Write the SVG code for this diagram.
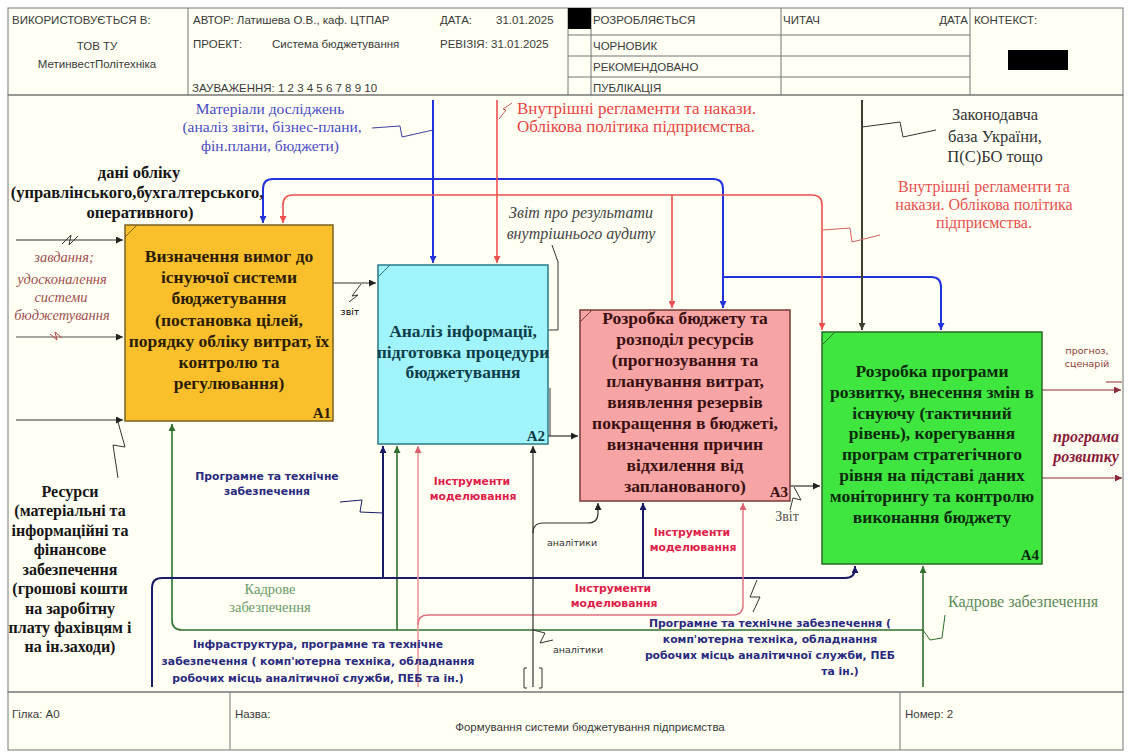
<svg xmlns="http://www.w3.org/2000/svg" width="1131" height="754" viewBox="0 0 1131 754">
<defs>
<marker id="mK" viewBox="0 0 10 10" refX="10" refY="5" markerWidth="8" markerHeight="7" markerUnits="userSpaceOnUse" orient="auto"><path d="M0,0 L10,5 L0,10 z" fill="#222"/></marker>
<marker id="mB" viewBox="0 0 10 10" refX="10" refY="5" markerWidth="8" markerHeight="7" markerUnits="userSpaceOnUse" orient="auto"><path d="M0,0 L10,5 L0,10 z" fill="#2233DD"/></marker>
<marker id="mR" viewBox="0 0 10 10" refX="10" refY="5" markerWidth="8" markerHeight="7" markerUnits="userSpaceOnUse" orient="auto"><path d="M0,0 L10,5 L0,10 z" fill="#EE4F4F"/></marker>
<marker id="mP" viewBox="0 0 10 10" refX="10" refY="5" markerWidth="8" markerHeight="7" markerUnits="userSpaceOnUse" orient="auto"><path d="M0,0 L10,5 L0,10 z" fill="#E06070"/></marker>
<marker id="mD" viewBox="0 0 10 10" refX="10" refY="5" markerWidth="8" markerHeight="7" markerUnits="userSpaceOnUse" orient="auto"><path d="M0,0 L10,5 L0,10 z" fill="#3E3E30"/></marker>
<marker id="mG" viewBox="0 0 10 10" refX="10" refY="5" markerWidth="8" markerHeight="7" markerUnits="userSpaceOnUse" orient="auto"><path d="M0,0 L10,5 L0,10 z" fill="#2F6F2F"/></marker>
<marker id="mN" viewBox="0 0 10 10" refX="10" refY="5" markerWidth="8" markerHeight="7" markerUnits="userSpaceOnUse" orient="auto"><path d="M0,0 L10,5 L0,10 z" fill="#1A1A66"/></marker>
<marker id="mO" viewBox="0 0 10 10" refX="10" refY="5" markerWidth="8" markerHeight="7" markerUnits="userSpaceOnUse" orient="auto"><path d="M0,0 L10,5 L0,10 z" fill="#8B2A3A"/></marker>
</defs>
<style>
.frame{fill:none;stroke:#777;stroke-width:1}
.hdr{font-family:"Liberation Sans",Arial,sans-serif;font-size:11.5px;fill:#3a3a3a}
.box{font-family:"Liberation Serif","Times New Roman",serif;font-weight:bold;font-size:17.5px;text-anchor:middle}
.num{font-family:"Liberation Serif","Times New Roman",serif;font-weight:bold;font-size:15px;text-anchor:end}
.ser{font-family:"Liberation Serif","Times New Roman",serif;text-anchor:middle}
.sb{font-family:"DejaVu Sans",Verdana,sans-serif;font-weight:bold;font-size:10.8px;text-anchor:middle}
.ss{font-family:"DejaVu Sans",Verdana,sans-serif;font-size:9.5px;text-anchor:middle}
.ln{fill:none;stroke-linejoin:round}
.sq{fill:none;stroke-width:1}
</style>
<rect x="0" y="0" width="1131" height="754" fill="#FFFFFF"/>
<rect x="8" y="8" width="1115" height="742" fill="#FFFFF3"/>

<g id="header">
<rect class="frame" x="8" y="8" width="1115" height="87"/>
<line class="frame" x1="188" y1="8" x2="188" y2="95"/>
<line class="frame" x1="568" y1="8" x2="568" y2="95"/>
<line class="frame" x1="591" y1="8" x2="591" y2="95"/>
<line class="frame" x1="781" y1="8" x2="781" y2="95"/>
<line class="frame" x1="970" y1="8" x2="970" y2="95"/>
<line class="frame" x1="568" y1="35" x2="970" y2="35"/>
<line class="frame" x1="568" y1="56" x2="970" y2="56"/>
<line class="frame" x1="568" y1="77" x2="970" y2="77"/>
<rect x="568" y="8" width="23" height="21" fill="#000"/>
<rect x="1008" y="50" width="60" height="20" fill="#000"/>
<text class="hdr" x="12" y="24">ВИКОРИСТОВУЄТЬСЯ В:</text>
<text class="hdr" x="97" y="50" text-anchor="middle">ТОВ ТУ</text>
<text class="hdr" x="97" y="68" text-anchor="middle">МетинвестПолітехніка</text>
<text class="hdr" x="193" y="24">АВТОР: Латишева О.В., каф. ЦТПАР</text>
<text class="hdr" x="193" y="48">ПРОЕКТ:</text>
<text class="hdr" x="272" y="48">Система бюджетування</text>
<text class="hdr" x="440" y="24">ДАТА:</text>
<text class="hdr" x="496" y="24">31.01.2025</text>
<text class="hdr" x="440" y="48">РЕВІЗІЯ: 31.01.2025</text>
<text class="hdr" x="192" y="92">ЗАУВАЖЕННЯ: 1 2 3 4 5 6 7 8 9 10</text>
<text class="hdr" x="593" y="24">РОЗРОБЛЯЄТЬСЯ</text>
<text class="hdr" x="593" y="50">ЧОРНОВИК</text>
<text class="hdr" x="593" y="71">РЕКОМЕНДОВАНО</text>
<text class="hdr" x="593" y="92">ПУБЛІКАЦІЯ</text>
<text class="hdr" x="783" y="24">ЧИТАЧ</text>
<text class="hdr" x="968" y="24" text-anchor="end">ДАТА</text>
<text class="hdr" x="974" y="24">КОНТЕКСТ:</text>
</g>

<g id="footer">
<rect class="frame" x="8" y="692" width="1115" height="58"/>
<line class="frame" x1="230" y1="692" x2="230" y2="750"/>
<line class="frame" x1="900" y1="692" x2="900" y2="750"/>
<text class="hdr" x="12" y="718">Гілка: A0</text>
<text class="hdr" x="235" y="718">Назва:</text>
<text class="hdr" x="590" y="731" text-anchor="middle">Формування системи бюджетування підприємства</text>
<text class="hdr" x="905" y="718">Номер: 2</text>
</g>
<rect class="frame" x="8" y="95" width="1115" height="597"/>

<g id="connectors">
<path class="ln" stroke="#2233DD" stroke-width="2" d="M433,100 V263" marker-end="url(#mB)"/>
<path class="ln" stroke="#2233DD" stroke-width="2" d="M433,179 H273 Q263,179 263,189 V223" marker-end="url(#mB)"/>
<path class="ln" stroke="#2233DD" stroke-width="2" d="M433,179 H713 Q723,179 723,189 V308" marker-end="url(#mB)"/>
<path class="ln" stroke="#2233DD" stroke-width="2" d="M723,277 H931 Q941,277 941,287 V330" marker-end="url(#mB)"/>
<path class="ln" stroke="#EE4F4F" stroke-width="1.6" d="M497,100 V263" marker-end="url(#mR)"/>
<path class="ln" stroke="#EE4F4F" stroke-width="1.6" d="M497,195 H293 Q283,195 283,205 V223" marker-end="url(#mR)"/>
<path class="ln" stroke="#EE4F4F" stroke-width="1.6" d="M497,195 H812 Q822,195 822,205 V330" marker-end="url(#mR)"/>
<path class="ln" stroke="#EE4F4F" stroke-width="1.6" d="M672,195 V308" marker-end="url(#mR)"/>
<path class="ln" stroke="#3E3E30" stroke-width="2" d="M862,100 V330" marker-end="url(#mD)"/>
<path class="ln" stroke="#333" stroke-width="1.2" d="M16,240 H123" marker-end="url(#mK)"/>
<path class="ln" stroke="#555" stroke-width="1.2" d="M16,337 H123" marker-end="url(#mK)"/>
<path class="ln" stroke="#333" stroke-width="1.2" d="M16,420 H123" marker-end="url(#mK)"/>
<path class="ln" stroke="#333" stroke-width="1.2" d="M333,283 H376" marker-end="url(#mK)"/>
<path class="ln" stroke="#333" stroke-width="1.2" d="M548,436 H578" marker-end="url(#mK)"/>
<path class="ln" stroke="#333" stroke-width="1.2" d="M790,486 H820" marker-end="url(#mK)"/>
<path class="ln" stroke="#8B2A3A" stroke-width="1.2" d="M1042,390 H1121" marker-end="url(#mO)"/>
<line x1="1106" y1="382" x2="1122" y2="382" stroke="#8B2A3A" stroke-width="1"/>
<path class="ln" stroke="#8B2A3A" stroke-width="1.2" d="M1042,478 H1122" marker-end="url(#mO)"/>
<path class="ln" stroke="#2F6F2F" stroke-width="1.6" d="M923,687 V566" marker-end="url(#mG)"/>
<path class="ln" stroke="#2F6F2F" stroke-width="1.6" d="M923,630 H182 Q172,630 172,620 V424" marker-end="url(#mG)"/>
<path class="ln" stroke="#2F6F2F" stroke-width="1.6" d="M397,630 V446" marker-end="url(#mG)"/>
<path class="ln" stroke="#1A1A66" stroke-width="2" d="M152,687 V588 Q152,578 162,578 H845 Q855,578 855,568 V566" marker-end="url(#mN)"/>
<path class="ln" stroke="#1A1A66" stroke-width="2" d="M383,578 V446" marker-end="url(#mN)"/>
<path class="ln" stroke="#1A1A66" stroke-width="2" d="M643,578 V503" marker-end="url(#mN)"/>
<path class="ln" stroke="#EC9A9A" stroke-width="1.6" d="M418,687 V446" marker-end="url(#mP)"/>
<path class="ln" stroke="#E07080" stroke-width="1.4" d="M418,625 Q418,615 428,615 H733 Q743,615 743,605 V503" marker-end="url(#mP)"/>
<path class="ln" stroke="#333" stroke-width="1.2" d="M533,687 V446" marker-end="url(#mK)"/>
<path class="ln" stroke="#333" stroke-width="1.2" d="M533,533 Q533,523 543,523 H588 Q598,523 598,513 V503" marker-end="url(#mK)"/>
<path class="sq" stroke="#333" d="M527,668 H524 V688 H527 M539,668 H542 V688 H539"/>
<path class="sq" stroke="#4040A0" d="M372,128 L400,126 L402,137 L433,130"/>
<path class="sq" stroke="#D06060" d="M499,119 L506,110 L503,109 L512,103"/>
<path class="sq" stroke="#333" d="M862,127 L900,122 L903,137 L936,130"/>
<path class="sq" stroke="#D06060" d="M823,230 L850,228 L852,242 L880,235"/>
<path class="sq" stroke="#333" d="M62,244 L71,235 L69,245 L78,236"/>
<path class="sq" stroke="#C04040" d="M50,334 L57,340 L55,332 L62,338"/>
<path class="sq" stroke="#333" d="M118,422 L125,447 L113,445 L118,478"/>
<path class="sq" stroke="#333" d="M361,284 L352,296 L358,295 L349,302"/>
<path class="sq" stroke="#333" d="M552,245 L558,262 L558,330 L548,330 M550,388 V436"/>
<path class="sq" stroke="#1A1A66" d="M340,502 L362,500 L360,512 L383,513"/>
<path class="sq" stroke="#333" d="M794,487 L801,500 L793,498 L790,510"/>
<path class="sq" stroke="#333" d="M533,630 L545,633 L540,643 L553,640"/>
<path class="sq" stroke="#2F6F2F" d="M923,630 L930,640 L942,638 L945,615"/>
<path class="sq" stroke="#333" d="M757,580 L750,597 L760,597 L753,612"/>
</g>

<g id="A1">
<rect x="125" y="225" width="208" height="196" fill="#FAC02C" stroke="#7A6020" stroke-width="1.5"/>
<line x1="125" y1="237" x2="137" y2="225" stroke="#7A6020"/>
<text class="box" fill="#2B1D05"><tspan x="229" y="262">Визначення вимог до</tspan><tspan x="229" y="283">існуючої системи</tspan><tspan x="229" y="304">бюджетування</tspan><tspan x="229" y="326">(постановка цілей,</tspan><tspan x="229" y="347">порядку обліку витрат, їх</tspan><tspan x="229" y="368">контролю та</tspan><tspan x="229" y="389">регулювання)</tspan></text>
<text class="num" fill="#2B1D05" x="331" y="418">A1</text>
</g>

<g id="A2">
<rect x="378" y="265" width="170" height="179" fill="#A2F4FC" stroke="#2A7A8A" stroke-width="1.5"/>
<line x1="378" y1="277" x2="390" y2="265" stroke="#2A7A8A"/>
<text class="box" fill="#0E3E4A"><tspan x="463" y="337">Аналіз інформації,</tspan><tspan x="463" y="358">підготовка процедури</tspan><tspan x="463" y="378">бюджетування</tspan></text>
<text class="num" fill="#0E3E4A" x="545" y="441">A2</text>
</g>

<g id="A3">
<rect x="580" y="310" width="210" height="191" fill="#F6A4A4" stroke="#7A3A3A" stroke-width="1.5"/>
<line x1="580" y1="322" x2="592" y2="310" stroke="#7A3A3A"/>
<text class="box" fill="#3A0F0F"><tspan x="685" y="324">Розробка бюджету та</tspan><tspan x="685" y="345">розподіл ресурсів</tspan><tspan x="685" y="366">(прогнозування та</tspan><tspan x="685" y="387">планування витрат,</tspan><tspan x="685" y="408">виявлення резервів</tspan><tspan x="685" y="429">покращення в бюджеті,</tspan><tspan x="685" y="450">визначення причин</tspan><tspan x="685" y="471">відхилення від</tspan><tspan x="685" y="492">запланованого)</tspan></text>
<text class="num" fill="#3A0F0F" x="788" y="497">A3</text>
</g>

<g id="A4">
<rect x="822" y="332" width="220" height="232" fill="#40E640" stroke="#2A6A2A" stroke-width="1.5"/>
<line x1="822" y1="345" x2="835" y2="332" stroke="#2A6A2A"/>
<text class="box" fill="#0A2A0A"><tspan x="932" y="377">Розробка програми</tspan><tspan x="932" y="398">розвитку, внесення змін в</tspan><tspan x="932" y="419">існуючу (тактичний</tspan><tspan x="932" y="439">рівень), корегування</tspan><tspan x="932" y="460">програм стратегічного</tspan><tspan x="932" y="481">рівня на підставі даних</tspan><tspan x="932" y="502">моніторингу та контролю</tspan><tspan x="932" y="523">виконання бюджету</tspan></text>
<text class="num" fill="#0A2A0A" x="1039" y="560">A4</text>
</g>

<g id="labels">
<text class="ser" font-size="15.5" fill="#4A4AC8"><tspan x="270" y="114">Матеріали досліджень</tspan><tspan x="272" y="132">(аналіз звіти, бізнес-плани,</tspan><tspan x="270" y="151">фін.плани, бюджети)</tspan></text>
<text font-family="Liberation Serif, serif" font-size="17" fill="#E84444"><tspan x="517" y="114">Внутрішні регламенти та накази.</tspan><tspan x="517" y="132">Облікова політика підприємства.</tspan></text>
<text class="ser" font-size="16.5" fill="#333"><tspan x="995" y="120">Законодавча</tspan><tspan x="995" y="142">база України,</tspan><tspan x="995" y="162">П(С)БО тощо</tspan></text>
<text class="ser" font-size="16" fill="#E85050"><tspan x="984" y="192">Внутрішні регламенти та</tspan><tspan x="984" y="210">накази. Облікова політика</tspan><tspan x="984" y="228">підприємства.</tspan></text>
<text class="ser" font-size="16.5" font-weight="bold" fill="#151515"><tspan x="139" y="178">дані обліку</tspan><tspan x="137" y="198">(управлінського,бухгалтерського,</tspan><tspan x="140" y="218">оперативного)</tspan></text>
<text class="ser" font-size="14.5" font-style="italic" fill="#A05050"><tspan x="64" y="262">завдання;</tspan><tspan x="62" y="284">удосконалення</tspan><tspan x="61" y="302">системи</tspan><tspan x="62" y="320">бюджетування</tspan></text>
<text class="ser" font-size="16" font-weight="bold" fill="#151515"><tspan x="70" y="497">Ресурси</tspan><tspan x="70" y="516">(матеріальні та</tspan><tspan x="70" y="536">інформаційні та</tspan><tspan x="70" y="555">фінансове</tspan><tspan x="70" y="575">забезпечення</tspan><tspan x="70" y="594">(грошові кошти</tspan><tspan x="70" y="614">на заробітну</tspan><tspan x="70" y="633">плату фахівцям і</tspan><tspan x="70" y="652">на ін.заходи)</tspan></text>
<text class="ss" x="350" y="315" font-size="8.5">звіт</text>
<text class="ser" font-size="16" font-style="italic" fill="#444"><tspan x="581" y="218">Звіт про результати</tspan><tspan x="581" y="239">внутрішнього аудиту</tspan></text>
<text class="ser" font-size="14" fill="#555" x="787" y="521">Звіт</text>
<text class="ss" fill="#8B3A3A" font-size="9"><tspan x="1087" y="354">прогноз,</tspan><tspan x="1087" y="367">сценарій</tspan></text>
<text class="ser" font-size="16" font-weight="bold" font-style="italic" fill="#8B1A3A"><tspan x="1086" y="442">програма</tspan><tspan x="1086" y="462">розвитку</tspan></text>
<text class="sb" fill="#2A2A80"><tspan x="267" y="480">Програмне та технічне</tspan><tspan x="267" y="495">забезпечення</tspan></text>
<text class="sb" fill="#E0204A"><tspan x="472" y="485">Інструменти</tspan><tspan x="473" y="500">моделювання</tspan></text>
<text class="sb" fill="#E0204A"><tspan x="692" y="536">Інструменти</tspan><tspan x="693" y="551">моделювання</tspan></text>
<text class="sb" fill="#E0204A"><tspan x="613" y="592">Інструменти</tspan><tspan x="614" y="607">моделювання</tspan></text>
<text class="ss" fill="#333"><tspan x="572" y="546">аналітики</tspan></text>
<text class="ss" fill="#333"><tspan x="578" y="653">аналітики</tspan></text>
<text class="ser" font-size="14.5" fill="#6A9A6A"><tspan x="270" y="594">Кадрове</tspan><tspan x="270" y="612">забезпечення</tspan></text>
<text class="ser" font-size="16" fill="#5A8A5A" x="1023" y="607">Кадрове забезпечення</text>
<text class="sb" fill="#2A2A80"><tspan x="318" y="648">Інфраструктура, програмне та технічне</tspan><tspan x="318" y="665">забезпечення ( комп'ютерна техніка, обладнання</tspan><tspan x="318" y="682">робочих місць аналітичної служби, ПЕБ та ін.)</tspan></text>
<text class="sb" fill="#2A2A80"><tspan x="770" y="627">Програмне та технічне забезпечення (</tspan><tspan x="770" y="643">комп'ютерна техніка, обладнання</tspan><tspan x="770" y="659">робочих місць аналітичної служби, ПЕБ</tspan><tspan x="840" y="675">та ін.)</tspan></text>
</g>
</svg>
